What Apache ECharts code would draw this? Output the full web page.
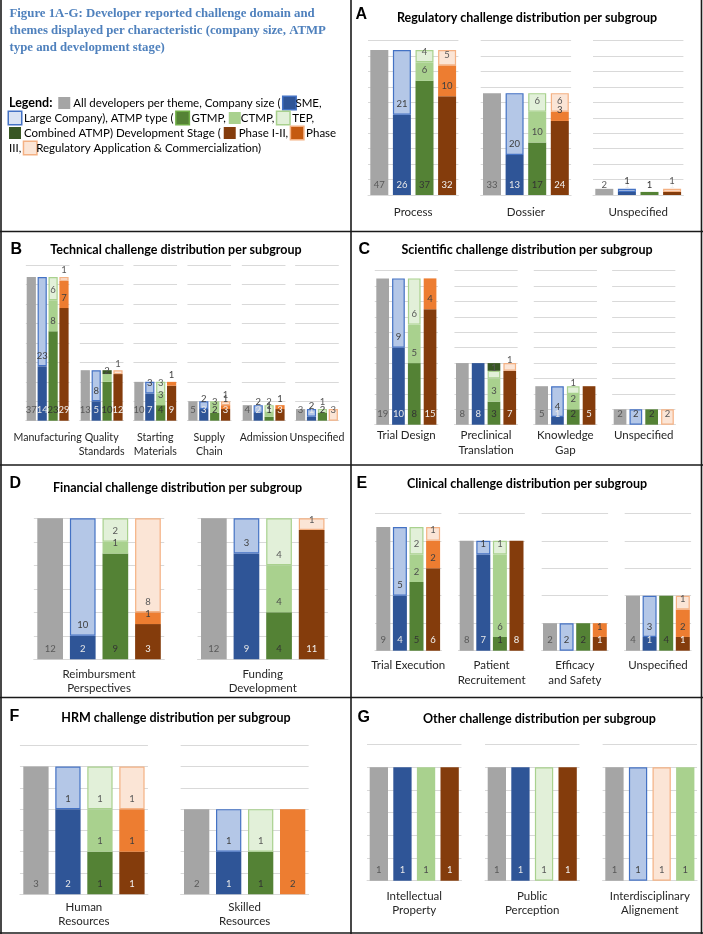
<!DOCTYPE html>
<html>
<head>
<meta charset="utf-8">
<script src="https://cdn.jsdelivr.net/npm/echarts@6/dist/echarts.min.js"></script>
<style>
  html, body { margin: 0; padding: 0; background: #fff; }
  #chart { width: 703px; height: 934px; }
</style>
</head>
<body>
<div id="chart"></div>
<script>
// subgroups, in stacking order (bottom to top inside each bar)
const subgroups = ['All developers', 'SME', 'Large Company', 'GTMP', 'CTMP', 'TEP', 'Combined ATMP',
  'Phase I-II', 'Phase III', 'Regulatory Application & Commercialization'];
// which of the 4 bars of a group each subgroup belongs to
const subgroupBar = [0, 1, 1, 2, 2, 2, 2, 3, 3, 3];

// A - Regulatory (rows follow subgroups, columns follow categories)
const regCats = ['Process', 'Dossier', 'Unspecified'];
const regVals = [
  [47, 33, 2], [26, 13, 1], [21, 20, 1],
  [37, 17, 1], [6, 10, 0], [4, 6, 0], [0, 0, 0],
  [32, 24, 1], [10, 3, 0], [5, 6, 1]
];
// B - Technical
const techCats = ['Manufacturing', 'Quality\nStandards', 'Starting\nMaterials', 'Supply\nChain', 'Admission', 'Unspecified'];
const techVals = [
  [37, 13, 10, 5, 4, 3], [14, 5, 7, 3, 2, 1], [23, 8, 3, 2, 2, 2],
  [23, 10, 4, 2, 1, 2], [8, 2, 3, 3, 1, 0], [6, 0, 3, 0, 2, 1], [0, 1, 0, 0, 0, 0],
  [29, 12, 9, 3, 3, 0], [7, 0, 1, 1, 1, 0], [1, 1, 0, 1, 0, 3]
];
// C - Scientific
const sciCats = ['Trial Design', 'Preclinical\nTranslation', 'Knowledge\nGap', 'Unspecified'];
const sciVals = [
  [19, 8, 5, 2], [10, 8, 1, 0], [9, 0, 4, 2],
  [8, 3, 2, 2], [5, 3, 2, 0], [6, 1, 1, 0], [0, 1, 0, 0],
  [15, 7, 5, 0], [4, 0, 0, 0], [0, 1, 0, 2]
];
// D - Financial
const finCats = ['Reimbursment\nPerspectives', 'Funding\nDevelopment'];
const finVals = [
  [12, 12], [2, 9], [10, 3],
  [9, 4], [1, 4], [2, 4], [0, 0],
  [3, 11], [1, 0], [8, 1]
];
// E - Clinical
const cliCats = ['Trial Execution', 'Patient\nRecruitement', 'Efficacy\nand Safety', 'Unspecified'];
const cliVals = [
  [9, 8, 2, 4], [4, 7, 0, 1], [5, 1, 2, 3],
  [5, 1, 2, 4], [2, 6, 0, 0], [2, 1, 0, 0], [0, 0, 0, 0],
  [6, 8, 1, 1], [2, 0, 1, 2], [1, 0, 0, 1]
];
// F - HRM
const hrmCats = ['Human\nResources', 'Skilled\nResources'];
const hrmVals = [
  [3, 2], [2, 1], [1, 1],
  [1, 1], [1, 0], [1, 1], [0, 0],
  [1, 0], [1, 2], [1, 0]
];
// G - Other
const othCats = ['Intellectual\nProperty', 'Public\nPerception', 'Interdisciplinary\nAlignement'];
const othVals = [
  [1, 1, 1], [1, 1, 0], [0, 0, 1],
  [0, 0, 0], [1, 0, 1], [0, 1, 0], [0, 0, 0],
  [1, 1, 0], [0, 0, 0], [0, 0, 1]
];
// G/Interdisciplinary shows the stage bar before the ATMP bar
const othBarOrder = [[0, 1, 2, 3], [0, 1, 2, 3], [0, 1, 3, 2]];

// value axis ticks per panel
const yMax = [50, 40, 20, 12, 10, 3.5, 1.2];
const yStep = [5, 5, 2, 2, 2, 0.5, 0.2];

const panels = [
  {letter: 'A', title: 'Regulatory challenge distribution per subgroup', cats: regCats, vals: regVals},
  {letter: 'B', title: 'Technical challenge distribution per subgroup', cats: techCats, vals: techVals},
  {letter: 'C', title: 'Scientific challenge distribution per subgroup', cats: sciCats, vals: sciVals},
  {letter: 'D', title: 'Financial challenge distribution per subgroup', cats: finCats, vals: finVals},
  {letter: 'E', title: 'Clinical challenge distribution per subgroup', cats: cliCats, vals: cliVals},
  {letter: 'F', title: 'HRM challenge distribution per subgroup', cats: hrmCats, vals: hrmVals},
  {letter: 'G', title: 'Other challenge distribution per subgroup', cats: othCats, vals: othVals, order: othBarOrder}
];

// positions (px) of each panel
const layout = [
  {groupX: [370.3, 483, 595.3], pitch: 22.6, barW: 18, top: 40.7, base: 195, nameGap: 10.2, lh: 15, catFont: 11.5, letter: [355.5, 14.7], titleX: 527, titleY: 17.7},
  {groupX: [26.7, 80.7, 134.3, 188.3, 242.7, 296], pitch: 10.9, barW: 9.2, top: 265.3, base: 420.7, nameGap: 10.2, lh: 13.5, catFont: 10.6, letter: [10.5, 249.7], titleX: 176, titleY: 249.7},
  {groupX: [376.3, 456, 535.3, 613.7], pitch: 15.8, barW: 12.7, top: 270.7, base: 424.7, nameGap: 3, lh: 15, catFont: 11.5, letter: [358.5, 249.7], titleX: 527, titleY: 249.7},
  {groupX: [37.3, 201], pitch: 32.6, barW: 25.7, top: 518.3, base: 659.3, nameGap: 7.3, lh: 14.5, catFont: 11.5, letter: [9.5, 483.3], titleX: 177.5, titleY: 487.7},
  {groupX: [376.3, 459.7, 543, 626], pitch: 16.6, barW: 14, top: 513.3, base: 650.7, nameGap: 6.6, lh: 15, catFont: 11.5, letter: [356.5, 483.3], titleX: 527, titleY: 484},
  {groupX: [23.3, 184], pitch: 32, barW: 25.3, top: 745.3, base: 894.3, nameGap: 5.3, lh: 14.5, catFont: 11.5, letter: [9.5, 717], titleX: 176, titleY: 717.7},
  {groupX: [369.7, 487.7, 605.3], pitch: 23.6, barW: 18.3, top: 744.7, base: 880.7, nameGap: 8.2, lh: 14.5, catFont: 11.5, letter: [357.5, 717.7], titleX: 539.5, titleY: 719.3}
];

const fills = ['#A5A5A5', '#2F5597', '#B4C7E7', '#548235', '#A9D18E', '#E2F0D9', '#385723', '#843C0C', '#ED7D31', '#FBE5D6'];
const borders = [null, null, '#4472C4', null, null, '#A9D18E', null, null, null, '#F4B183'];
const labelColors = ['#595959', '#E8E8E8', '#404040', '#333333', '#4D4D4D', '#595959', '#FFFFFF', '#F2F2F2', '#404040', '#595959'];
const font = 'Lato';

let grids = [], xAxes = [], yAxes = [], series = [], graphics = []

panels.forEach(function (p, pi) {
  let lay = layout[pi]
  p.cats.forEach(function (cat, ci) {
    let gi = grids.length
    grids.push({
      left: lay.groupX[ci] - (lay.pitch - lay.barW) / 2,
      top: lay.top,
      width: lay.pitch * 4,
      height: lay.base - lay.top,
      outerBoundsMode: 'none'
    })
    xAxes.push({
      gridIndex: gi,
      type: 'category',
      data: ['all', 'size', 'type', 'stage'],
      axisLabel: {show: false},
      axisTick: {show: false},
      axisLine: {lineStyle: {color: '#D9D9D9', width: 1}},
      name: cat,
      nameLocation: 'middle',
      nameGap: lay.nameGap,
      nameTextStyle: {fontFamily: font, fontSize: lay.catFont, color: '#262626', lineHeight: lay.lh}
    })
    yAxes.push({
      gridIndex: gi,
      type: 'value',
      min: 0,
      max: yMax[pi],
      interval: yStep[pi],
      axisLabel: {show: false},
      axisLine: {show: false},
      axisTick: {show: false},
      splitLine: {lineStyle: {color: '#D9D9D9', width: 1}}
    })
    subgroups.forEach(function (name, si) {
      let v = p.vals[si][ci]
      if (!v) return
      let slot = p.order ? p.order[ci][subgroupBar[si]] : subgroupBar[si]
      let data = ['-', '-', '-', '-']
      data[slot] = v
      series.push({
        name: name,
        type: 'bar',
        xAxisIndex: gi,
        yAxisIndex: gi,
        stack: 'g' + gi,
        barWidth: lay.barW,
        data: data,
        itemStyle: {
          color: fills[si],
          borderColor: borders[si] || fills[si],
          borderWidth: borders[si] ? 1.2 : 0
        },
        label: {
          show: true,
          position: 'insideBottom',
          distance: 5.5,
          fontFamily: font,
          fontSize: 9.5,
          color: labelColors[si]
        },
        silent: true
      })
    })
  })
  graphics.push({
    type: 'text', x: lay.letter[0], y: lay.letter[1],
    style: {text: p.letter, font: 'bold 16px "Liberation Sans"', fill: '#000',
      textAlign: 'left', align: 'left', textVerticalAlign: 'middle', verticalAlign: 'middle'}
  })
  graphics.push({
    type: 'text', x: lay.titleX, y: lay.titleY,
    style: {text: p.title, font: 'bold 12.5px ' + font, fill: '#000',
      textAlign: 'center', align: 'center', textVerticalAlign: 'middle', verticalAlign: 'middle'}
  })
})

// panel frames
let frameLines = [
  [1, 0, 1, 934], [351, 0, 351, 934], [701.5, 0, 701.5, 934],
  [0, 231.5, 703, 231.5], [0, 465, 703, 465], [0, 697.5, 703, 697.5], [0, 933, 703, 933]
]
frameLines.forEach(function (l) {
  graphics.push({
    type: 'line', shape: {x1: l[0], y1: l[1], x2: l[2], y2: l[3]},
    style: {stroke: '#1a1a1a', lineWidth: 1.6}, z: 100
  })
})

function sq(color, border) {
  return {width: 12, height: 12, backgroundColor: color, borderColor: border || color, borderWidth: border ? 1.5 : 0}
}

let legendText = '{b|Legend:}  {all| } All developers per theme, Company size ( {sme| }SME,\n' +
  '{lg| } Large Company), ATMP type ( {gt| } GTMP, {ct| }CTMP, {tep| } TEP,\n' +
  '{cb| } Combined ATMP) Development Stage ( {p12| } Phase I-II, {p3| } Phase\n' +
  'III, {reg| }Regulatory Application & Commercialization)'

let chart = echarts.init(document.getElementById('chart'))
chart.setOption({
  animation: false,
  backgroundColor: '#fff',
  title: [
    {
      text: 'Figure 1A-G: Developer reported challenge domain and\nthemes displayed per characteristic (company size, ATMP\ntype and development stage)',
      left: 9.5, top: 5, padding: 0,
      textStyle: {fontFamily: 'Liberation Serif', fontWeight: 'bold', fontSize: 12.8, color: '#4F81BD', lineHeight: 17}
    },
    {
      text: legendText,
      left: 9, top: 95.5, padding: 0,
      textStyle: {
        fontFamily: font, fontSize: 11.5, fontWeight: 'normal', color: '#000', lineHeight: 15,
        rich: {
          b: {fontFamily: font, fontWeight: 'bold', fontSize: 12.5, color: '#000'},
          all: sq('#A5A5A5'),
          sme: sq('#2F5597', '#4472C4'),
          lg: sq('#DAE3F3', '#4472C4'),
          gt: sq('#548235', '#70AD47'),
          ct: sq('#A9D18E'),
          tep: sq('#E2F0D9', '#A9D18E'),
          cb: sq('#385723'),
          p12: sq('#843C0C'),
          p3: sq('#C55A11', '#F4B183'),
          reg: sq('#FBE5D6', '#F4B183')
        }
      }
    }
  ],
  grid: grids,
  xAxis: xAxes,
  yAxis: yAxes,
  series: series,
  graphic: graphics
})
</script>
</body>
</html>
